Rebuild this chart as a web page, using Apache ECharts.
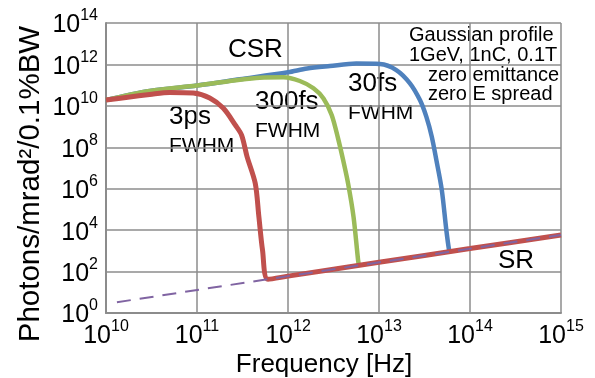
<!DOCTYPE html>
<html>
<head>
<meta charset="utf-8">
<script src="https://cdn.jsdelivr.net/npm/echarts@6/dist/echarts.min.js"></script>
<style>
  html, body { margin: 0; padding: 0; background: #ffffff; }
  #chart { width: 595px; height: 378px; }
</style>
</head>
<body>
<div id="chart"></div>
<script>
// values are log10 of frequency [Hz] and log10 of photons/mrad2/0.1%BW
const xTicks = [10, 11, 12, 13, 14, 15];
const yTicks = [0, 2, 4, 6, 8, 10, 12, 14];

const freq3ps = [10.00, 10.24, 10.48, 10.70, 10.96, 11.14, 11.29, 11.42, 11.49, 11.55, 11.64, 11.68, 11.72, 11.78, 12.00, 13.00, 14.00, 15.00];
const flux3ps = [10.28, 10.42, 10.55, 10.65, 10.62, 10.38, 9.88, 9.08, 8.59, 7.55, 6.26, 4.65, 3.04, 1.63, 1.78, 2.45, 3.11, 3.77];

const freq300fs = [10.00, 10.48, 11.00, 11.47, 11.69, 11.95, 12.13, 12.28, 12.39, 12.48, 12.55, 12.61, 12.66, 12.72, 12.77, 12.78];
const flux300fs = [10.28, 10.72, 10.98, 11.26, 11.36, 11.38, 11.20, 10.85, 10.36, 9.56, 8.43, 7.30, 6.26, 4.65, 2.56, 2.29];

const freq30fs = [10.00, 10.48, 11.00, 11.47, 12.00, 12.21, 12.46, 12.75, 13.01, 13.19, 13.34, 13.45, 13.52, 13.58, 13.63, 13.69, 13.74, 13.77, 13.78];
const flux30fs = [10.28, 10.72, 10.98, 11.28, 11.62, 11.80, 11.92, 12.04, 12.02, 11.73, 11.09, 10.28, 9.48, 8.51, 7.39, 5.94, 4.00, 3.04, 2.96];

const freqSR = [10.12, 12.00, 15.00];
const fluxSR = [0.52, 1.78, 3.77];

const font = 'Liberation Sans, Arial, sans-serif';
const gridColor = '#8c8c8c';

function pairs(xs, ys) {
  return xs.map((x, i) => [x, ys[i]]);
}

function powLabel(v) {
  return '{m|10}{s|' + v + '}';
}

const richPow = {
  m: { fontSize: 25, fontFamily: font, color: '#000', lineHeight: 30, verticalAlign: 'bottom' },
  s: { fontSize: 16, fontFamily: font, color: '#000', lineHeight: 16, verticalAlign: 'top' },
};

const chart = echarts.init(document.getElementById('chart'), null, { renderer: 'canvas' });

function text(x, y, str, size, extra) {
  return Object.assign({
    type: 'text',
    x: x,
    y: y,
    style: {
      text: str,
      font: size + 'px ' + font,
      fill: '#000',
      textVerticalAlign: 'middle',
    },
  }, extra || {});
}

function curve(name, xs, ys, color, w) {
  return {
    name: name,
    type: 'line',
    data: pairs(xs, ys),
    smooth: 0.3,
    symbol: 'none',
    lineStyle: { color: color, width: w },
  };
}

chart.setOption({
  animation: false,
  backgroundColor: '#ffffff',
  grid: { left: 106, right: 34, top: 23, bottom: 65, containLabel: false },
  xAxis: {
    type: 'value',
    min: xTicks[0],
    max: xTicks[xTicks.length - 1],
    interval: 1,
    axisLine: { show: true, lineStyle: { color: gridColor, width: 2 } },
    axisTick: { show: false },
    splitLine: { show: true, lineStyle: { color: gridColor, width: 1.5 } },
    axisLabel: { margin: 6, formatter: powLabel, rich: richPow },
  },
  yAxis: {
    type: 'value',
    min: yTicks[0],
    max: yTicks[yTicks.length - 1],
    interval: 2,
    axisLine: { show: true, lineStyle: { color: gridColor, width: 2 } },
    axisTick: { show: false },
    splitLine: { show: true, lineStyle: { color: gridColor, width: 1.5 } },
    axisLabel: { margin: 8, formatter: powLabel, rich: richPow },
  },
  series: [
    curve('30fs', freq30fs, flux30fs, '#4f81bd', 4.5),
    curve('300fs', freq300fs, flux300fs, '#9bbb59', 4.5),
    curve('3ps', freq3ps, flux3ps, '#c0504d', 5),
    {
      name: 'SR',
      type: 'line',
      data: pairs(freqSR, fluxSR),
      symbol: 'none',
      lineStyle: { color: '#8064a2', width: 2, type: [14, 9] },
    },
  ],
  graphic: [
    text(31, 184, '', 29, { rotation: Math.PI / 2, style: { text: 'Photons/mrad\u00b2/0.1%BW', font: '29.5px ' + font, fill: '#000', textAlign: 'center', textVerticalAlign: 'middle' } }),
    text(324, 365, '', 26, { style: { text: 'Frequency [Hz]', font: '26px ' + font, fill: '#000', textAlign: 'center', textVerticalAlign: 'middle' } }),
    text(228, 50, 'CSR', 26),
    text(169, 117, '3ps', 26),
    text(169, 146, 'FWHM', 21),
    text(255, 102, '300fs', 26),
    text(255, 131, 'FWHM', 21),
    text(348, 84, '30fs', 26),
    text(348, 113, 'FWHM', 21),
    text(498, 261, 'SR', 26),
    text(409, 35, 'Gaussian profile', 20),
    text(409, 55, '1GeV, 1nC, 0.1T', 20),
    text(428, 75, 'zero emittance', 20),
    text(428, 94, 'zero E spread', 20),
  ],
});
</script>
</body>
</html>
